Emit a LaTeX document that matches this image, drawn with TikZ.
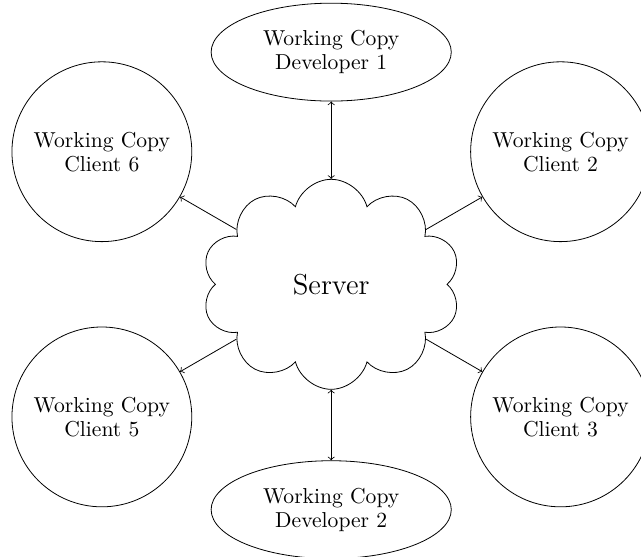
\documentclass[tikz,border=0pt]{standalone}
\usetikzlibrary{shapes.geometric,shapes.symbols}
\begin{document}
\begin{tikzpicture}[>=to,every node/.style={font=\fontsize{10.8}{12}\selectfont},client/.style={draw,circle,align=center,minimum size=3.16cm,inner sep=1pt},dev/.style={draw,ellipse,align=center,minimum width=4.22cm,minimum height=1.72cm,inner sep=1pt},hub/.style={draw,cloud,cloud puffs=10,cloud puff arc=150,aspect=1.25,minimum width=4.55cm,minimum height=3.69cm,font=\Large},arr/.style={->},both/.style={<->}]
\useasboundingbox (-5.82,-4.79) rectangle (5.444,4.996);
\node[hub] (server) at (0,0) {Server};
\node[dev] (dev1) at (0,4.08) {Working Copy\\Developer 1};
\node[dev] (dev2) at (0,-3.96) {Working Copy\\Developer 2};
\node[client] (c2) at (4.03,2.33) {Working Copy\\Client 2};
\node[client] (c3) at (4.03,-2.33) {Working Copy\\Client 3};
\node[client] (c5) at (-4.03,-2.33) {Working Copy\\Client 5};
\node[client] (c6) at (-4.03,2.33) {Working Copy\\Client 6};
\draw[both] (dev1)--(server);
\draw[both] (dev2)--(server);
\draw[arr] (server)--(c2);
\draw[arr] (server)--(c3);
\draw[arr] (server)--(c5);
\draw[arr] (server)--(c6);
\end{tikzpicture}
\end{document}
